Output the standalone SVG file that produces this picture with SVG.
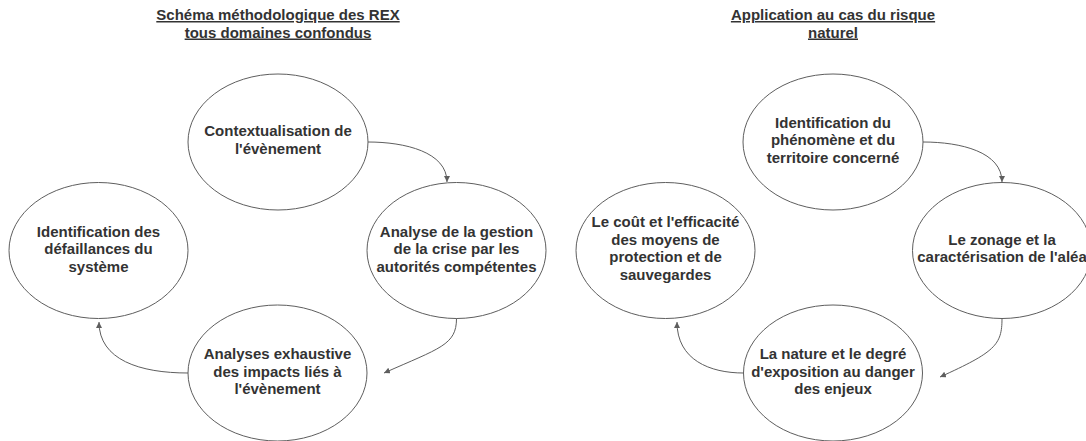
<svg xmlns="http://www.w3.org/2000/svg" width="1086" height="441" viewBox="0 0 1086 441">
<style>
.node ellipse{fill:#ffffff;stroke:#5e5e5e;stroke-width:1}
.node text,.title text{font-family:"Liberation Sans",Arial,sans-serif;font-weight:bold;font-size:15px;fill:#333333;text-anchor:middle}
.title text{text-decoration:underline}
.conn path{fill:none;stroke:#5e5e5e;stroke-width:1;marker-end:url(#arr)}
</style>
<defs>
<marker id="arr" markerUnits="userSpaceOnUse" markerWidth="8" markerHeight="8" refX="6" refY="3" orient="auto">
<path d="M0,0 L6,3 L0,6 Z" fill="#5e5e5e"/>
</marker>
</defs>
<rect width="1086" height="441" fill="#ffffff"/>
<g class="title" id="title-left">
<text x="278" y="20">Schéma méthodologique des REX</text>
<text x="278" y="37.5">tous domaines confondus</text>
</g>
<g class="title" id="title-right">
<text x="833" y="20">Application au cas du risque</text>
<text x="833" y="37.5">naturel</text>
</g>
<g class="node" id="n1">
<ellipse cx="278" cy="142" rx="90" ry="68"/>
<text x="278" y="136">Contextualisation de</text>
<text x="278" y="153.5">l'évènement</text>
</g>
<g class="node" id="n2">
<ellipse cx="456.5" cy="250.5" rx="89.5" ry="68"/>
<text x="456.5" y="236.5">Analyse de la gestion</text>
<text x="456.5" y="254">de la crise par les</text>
<text x="456.5" y="271.5">autorités compétentes</text>
</g>
<g class="node" id="n3">
<ellipse cx="277.5" cy="373" rx="89.5" ry="68"/>
<text x="277.5" y="359">Analyses exhaustive</text>
<text x="277.5" y="376.5">des impacts liés à</text>
<text x="277.5" y="394">l'évènement</text>
</g>
<g class="node" id="n4">
<ellipse cx="98.5" cy="250.5" rx="89.5" ry="68"/>
<text x="98.5" y="236.5">Identification des</text>
<text x="98.5" y="254">défaillances du</text>
<text x="98.5" y="271.5">système</text>
</g>
<g class="node" id="m1">
<ellipse cx="833" cy="142" rx="90" ry="68"/>
<text x="833" y="127.5">Identification du</text>
<text x="833" y="145">phénomène et du</text>
<text x="833" y="162.5">territoire concerné</text>
</g>
<g class="node" id="m2">
<ellipse cx="1002" cy="250.5" rx="89.5" ry="68"/>
<text x="1002" y="244.5">Le zonage et la</text>
<text x="1002" y="262">caractérisation de l'aléa</text>
</g>
<g class="node" id="m3">
<ellipse cx="833" cy="373" rx="89.5" ry="68"/>
<text x="833" y="359">La nature et le degré</text>
<text x="833" y="376.5">d'exposition au danger</text>
<text x="833" y="394">des enjeux</text>
</g>
<g class="node" id="m4">
<ellipse cx="665.5" cy="250.5" rx="89.5" ry="68"/>
<text x="665.5" y="227">Le coût et l'efficacité</text>
<text x="665.5" y="244.5">des moyens de</text>
<text x="665.5" y="262">protection et de</text>
<text x="665.5" y="279.5">sauvegardes</text>
</g>
<g class="conn" id="connectors">
<path d="M368,142 C405,142 447,152 447,182"/>
<path d="M456.5,318.5 C456.5,345 440,348 384,373"/>
<path d="M188,373 C140,373 99,360 99,322"/>
<path d="M923,142 C961,142 1002,152 1002,182"/>
<path d="M1002,318.5 C1002,345 995,352 940,377"/>
<path d="M743.5,373 C710,373 677,360 677,322"/>
</g>
</svg>
